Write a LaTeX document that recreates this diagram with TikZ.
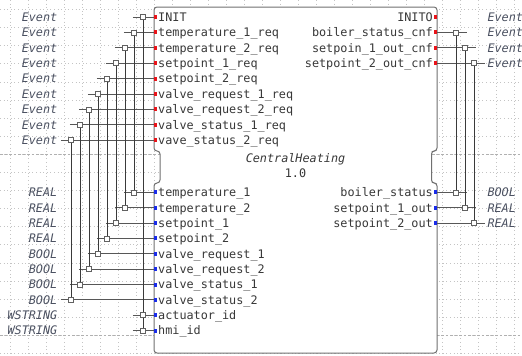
\documentclass[tikz,border=0pt]{standalone}
\usepackage{fontspec}
\usetikzlibrary{calc}
\setmonofont{DejaVu Sans Mono}
\definecolor{gridc}{HTML}{C4C4C4}
\definecolor{majorc}{HTML}{B0B0B0}
\definecolor{blockc}{HTML}{707070}
\definecolor{txtc}{HTML}{383838}
\definecolor{typec}{HTML}{4A5060}
\definecolor{linec}{HTML}{3A3A3A}
\definecolor{evred}{HTML}{E8141A}
\definecolor{datblue}{HTML}{1A2CE8}
\tikzset{
  gridline/.style={gridc, line width=0.7pt, dash pattern=on 1pt off 2.6pt},
  majorline/.style={majorc, line width=0.8pt, dash pattern=on 2.5pt off 2pt},
  block/.style={blockc, line width=1pt, fill=white, rounded corners=3pt},
  portname/.style={inner sep=0pt, text=txtc, font=\fontsize{11.8}{14}\selectfont\ttfamily},
  typename/.style={inner sep=0pt, text=typec, font=\fontsize{11.8}{14}\selectfont\ttfamily\itshape},
  titletext/.style={inner sep=0pt, text=txtc, font=\fontsize{11.8}{14}\selectfont\ttfamily},
  hline/.style={linec!85, line width=0.9pt},
  vline/.style={linec, line width=1pt},
  withsq/.style={draw=linec!80, fill=white, line width=0.7pt, minimum size=5pt, inner sep=0pt, rectangle},
  evport/.style={fill=evred, draw=none, minimum width=2.7pt, minimum height=4pt, inner sep=0pt, rectangle},
  dport/.style={fill=datblue, draw=none, minimum width=2.7pt, minimum height=4pt, inner sep=0pt, rectangle},
}
\begin{document}
\begin{tikzpicture}[x=1pt,y=-1pt]
\useasboundingbox (0,0) rectangle (522,356);

% background grid
\foreach \k in {0,...,28} \draw[gridline] (10+18.03*\k,0) -- (10+18.03*\k,356);
\foreach \k in {0,...,19} \draw[gridline] (0,9.5+18.1*\k) -- (522,9.5+18.1*\k);
\draw[majorline] (0,154.3) -- (522,154.3);
\draw[majorline] (0,335.3) -- (522,335.3);

% function block outline (event part, neck, data part)
\draw[block] (154,80) -- (154,7) -- (437,7) -- (437,151) -- (431.5,151) -- (431.5,183)
  -- (437,183) -- (437,353) -- (154,353) -- (154,183) -- (160,183) -- (160,151)
  -- (154,151) -- cycle;

\node[titletext, font=\fontsize{11.8}{14}\selectfont\ttfamily\itshape, anchor=base] (fbtype) at (295.5,162.5) {CentralHeating};
\node[titletext, anchor=base] (fbver) at (295.5,177.7) {1.0};

% input events
\foreach \lab [count=\i from 0] in {INIT, temperature\_1\_req, temperature\_2\_req,
    setpoint\_1\_req, setpoint\_2\_req, valve\_request\_1\_req, valve\_request\_2\_req,
    valve\_status\_1\_req, vave\_status\_2\_req}{
  \pgfmathsetmacro\yy{17+15.4*\i}
  \pgfmathsetmacro\sx{143.3-9*\i}
  \coordinate (ei\i) at (154,\yy);
  \coordinate (cei\i) at (\sx,\yy);
  \coordinate (sei\i) at (\sx-10.5,\yy);
  \node[portname, anchor=base west] (lei\i) at (158,\yy+4.3) {\lab};
  \node[typename, anchor=base east] (tei\i) at (57.5,\yy+4.3) {Event};
}

% input data
\foreach \lab/\typ [count=\i from 0] in {temperature\_1/REAL, temperature\_2/REAL,
    setpoint\_1/REAL, setpoint\_2/REAL, valve\_request\_1/BOOL, valve\_request\_2/BOOL,
    valve\_status\_1/BOOL, valve\_status\_2/BOOL, actuator\_id/WSTRING, hmi\_id/WSTRING}{
  \pgfmathsetmacro\yy{192.4+15.35*\i}
  \pgfmathsetmacro\sx{\i<8 ? 134.3-9*\i : 143.3}
  \coordinate (di\i) at (154,\yy);
  \coordinate (cdi\i) at (\sx,\yy);
  \coordinate (sdi\i) at (\sx-10.5,\yy);
  \node[portname, anchor=base west] (ldi\i) at (158,\yy+4.3) {\lab};
  \node[typename, anchor=base east] (tdi\i) at (57.5,\yy+4.3) {\typ};
}

% output events
\foreach \lab [count=\i from 0] in {INITO, boiler\_status\_cnf, setpoin\_1\_out\_cnf,
    setpoint\_2\_out\_cnf}{
  \pgfmathsetmacro\yy{17+15.4*\i}
  \pgfmathsetmacro\sx{456.3+9*(\i-1)}
  \coordinate (eo\i) at (437,\yy);
  \coordinate (ceo\i) at (\sx,\yy);
  \coordinate (feo\i) at (\sx+10.5,\yy);
  \node[portname, anchor=base east] (leo\i) at (433,\yy+4.3) {\lab};
  \node[typename, anchor=base west] (teo\i) at (487.3,\yy+4.3) {Event};
}

% output data
\foreach \lab/\typ [count=\i from 0] in {boiler\_status/BOOL, setpoint\_1\_out/REAL,
    setpoint\_2\_out/REAL}{
  \pgfmathsetmacro\yy{192.4+15.35*\i}
  \pgfmathsetmacro\sx{456.3+9*\i}
  \coordinate (do\i) at (437,\yy);
  \coordinate (cdo\i) at (\sx,\yy);
  \coordinate (fdo\i) at (\sx+10.5,\yy);
  \node[portname, anchor=base east] (ldo\i) at (433,\yy+4.3) {\lab};
  \node[typename, anchor=base west] (tdo\i) at (487.3,\yy+4.3) {\typ};
}

% stubs from the type labels to the ports
\foreach \i in {0,...,8} \draw[hline] (sei\i) -- (ei\i);
\foreach \i in {0,...,9} \draw[hline] (sdi\i) -- (di\i);
\foreach \i in {1,2,3} \draw[hline] (eo\i) -- (feo\i);
\foreach \i in {0,1,2} \draw[hline] (do\i) -- (fdo\i);

% WITH associations between events and data
\draw[vline] (cei0) -- (cdi9);
\foreach \i [evaluate=\i as \j using int(\i-1)] in {1,...,8} \draw[vline] (cei\i) -- (cdi\j);
\foreach \i [evaluate=\i as \j using int(\i-1)] in {1,2,3} \draw[vline] (ceo\i) -- (cdo\j);

% association markers
\foreach \i in {0,...,8} \node[withsq] (wei\i) at (cei\i) {};
\foreach \i in {0,...,9} \node[withsq] (wdi\i) at (cdi\i) {};
\foreach \i in {1,2,3} \node[withsq] (weo\i) at (ceo\i) {};
\foreach \i in {0,1,2} \node[withsq] (wdo\i) at (cdo\i) {};

% port markers
\foreach \i in {0,...,8} \node[evport] (mei\i) at ($(ei\i)+(1.2,0)$) {};
\foreach \i in {0,...,9} \node[dport] (mdi\i) at ($(di\i)+(1.2,0)$) {};
\foreach \i in {0,...,3} \node[evport] (meo\i) at ($(eo\i)+(-1.2,0)$) {};
\foreach \i in {0,1,2} \node[dport] (mdo\i) at ($(do\i)+(-1.2,0)$) {};
\end{tikzpicture}
\end{document}
